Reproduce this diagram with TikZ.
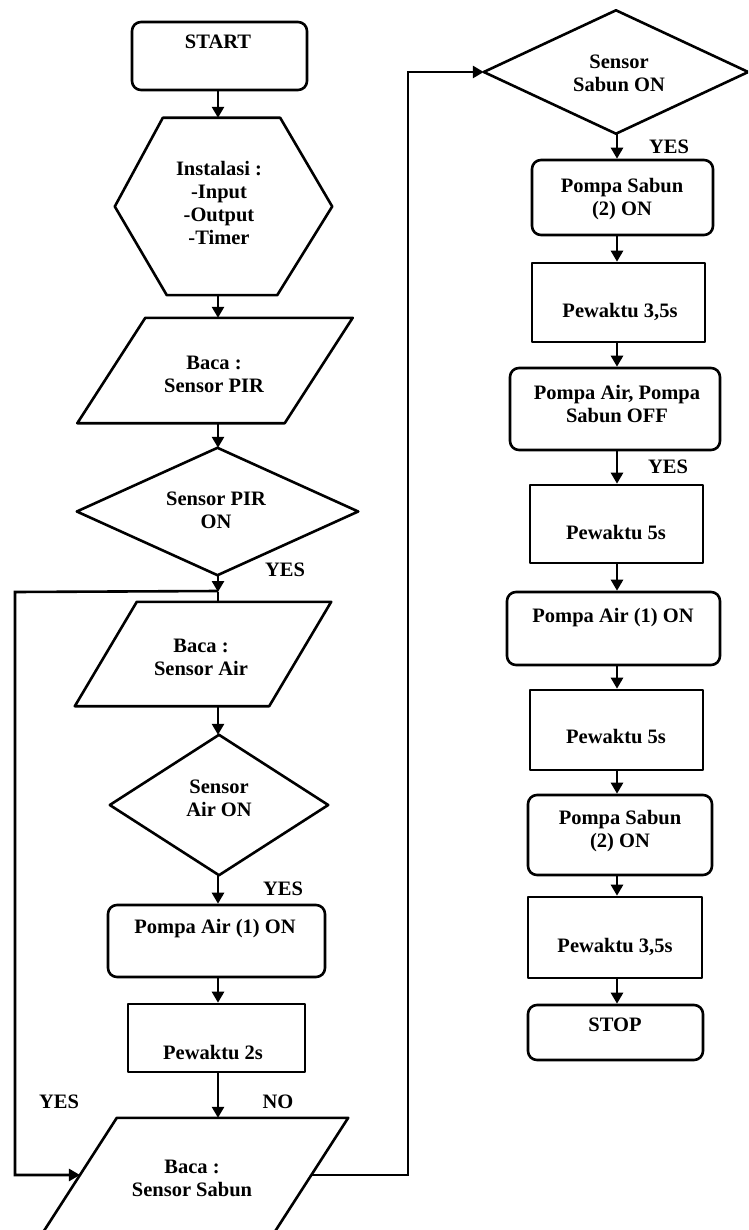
\documentclass[tikz,border=0pt]{standalone}
\usepackage{fontspec}
\setmainfont{Liberation Serif}
\usetikzlibrary{arrows.meta,calc}
\begin{document}
\begin{tikzpicture}[x=1pt,y=-1pt,
  shp/.style={draw=black, line width=2.6pt, line join=round},
  box/.style={shp, rectangle, inner sep=0pt},
  rbox/.style={box, rounded corners=9pt},
  ghost/.style={rectangle, inner sep=0pt},
  txt/.style={font=\fontsize{20.5}{23}\selectfont\bfseries, align=center, inner sep=0pt},
  arr/.style={line width=2.6pt, -{Triangle[length=11pt,width=12pt]}},
  ln/.style={line width=2.6pt},
]
\useasboundingbox (0,0) rectangle (748,1230);
\fill[white] (0,0) rectangle (748,1230);
\clip (0,0) rectangle (748,1230);

% column guides
\coordinate (colL) at (218,0);
\coordinate (colR) at (617,0);
\coordinate (rc) at (408,0);
\coordinate (lc) at (15,0);

% ---------- left column ----------
\node[rbox, minimum width=175pt, minimum height=68pt] (start) at (219.5,56) {};
\node[txt] (tstart) at (218,42) {START};

\node[ghost, minimum width=217pt, minimum height=177pt] (hex) at (223.5,206.5) {};
\draw[shp] (hex.west) -- ($(hex.north west)+(48,0)$) -- ($(hex.north east)+(-52,0)$)
  -- (hex.east) -- ($(hex.south east)+(-55,0)$) -- ($(hex.south west)+(52,0)$) -- cycle;
\node[txt, font=\fontsize{20.5}{23.3}\selectfont\bfseries] (thex) at (219,203) {Instalasi :\\-Input\\-Output\\-Timer};

\node[ghost, minimum width=207pt, minimum height=105pt] (p1) at (215,370.5) {};
\draw[shp] ($(p1.north west)+(34,0)$) -- ($(p1.north east)+(34,0)$)
  -- ($(p1.south east)+(-34,0)$) -- ($(p1.south west)+(-34,0)$) -- cycle;
\node[txt] (tp1) at (214,374) {Baca :\\Sensor PIR};

\node[ghost, minimum width=281pt, minimum height=127pt] (d1) at (217.5,511.5) {};
\draw[shp] (d1.north) -- (d1.east) -- (d1.south) -- (d1.west) -- cycle;
\node[txt] (td1) at (216,510) {Sensor PIR\\ON};

\coordinate (j1) at (218,592);

\node[ghost, minimum width=194pt, minimum height=104pt] (p2) at (203,654) {};
\draw[shp] ($(p2.north west)+(31,0)$) -- ($(p2.north east)+(31,0)$)
  -- ($(p2.south east)+(-31,0)$) -- ($(p2.south west)+(-31,0)$) -- cycle;
\node[txt] (tp2) at (201,657) {Baca :\\Sensor Air};

\node[ghost, minimum width=218pt, minimum height=140pt] (d2) at (219,805) {};
\draw[shp] (d2.north) -- (d2.east) -- (d2.south) -- (d2.west) -- cycle;
\node[txt] (td2) at (219,798) {Sensor\\Air ON};

\node[rbox, minimum width=217pt, minimum height=72pt] (pa1) at (216.5,941) {};
\node[txt] (tpa1) at (215,929) {Pompa Air (1) ON};

\node[box, minimum width=177pt, minimum height=68pt] (w2) at (216.5,1038) {};
\node[txt] (tw2) at (213,1053) {Pewaktu 2s};

\node[ghost, minimum width=231pt, minimum height=130pt] (p3) at (190.5,1183) {};
\coordinate (p3tl) at ($(p3.north west)+(42,0)$);
\coordinate (p3tr) at ($(p3.north east)+(42,0)$);
\coordinate (p3br) at ($(p3.south east)+(-42,0)$);
\coordinate (p3bl) at ($(p3.south west)+(-42,0)$);
\draw[shp] (p3tl) -- (p3tr) -- (p3br) -- (p3bl) -- cycle;
\coordinate (p3in) at ($(p3tl)!0.4385!(p3bl)$);
\coordinate (p3out) at ($(p3tr)!0.4385!(p3br)$);
\node[txt] (tp3) at (192,1178) {Baca :\\Sensor Sabun};

% ---------- right column ----------
\node[ghost, minimum width=264pt, minimum height=123pt] (d3) at (616,72) {};
\draw[shp] (d3.north) -- (d3.east) -- (d3.south) -- (d3.west) -- cycle;
\node[txt] (td3) at (619,73) {Sensor\\Sabun ON};

\node[rbox, minimum width=181pt, minimum height=75pt] (ps1) at (622.5,197.5) {};
\node[txt] (tps1) at (622,199) {Pompa Sabun\\(2) ON};

\node[box, minimum width=173pt, minimum height=79pt] (w35a) at (618.5,302.5) {};
\node[txt] (tw35a) at (620,312) {Pewaktu 3,5s};

\node[rbox, minimum width=210pt, minimum height=82pt] (poff) at (615,409) {};
\node[txt] (tpoff) at (617,404) {Pompa Air, Pompa\\Sabun OFF};

\node[box, minimum width=173pt, minimum height=78pt] (w5a) at (616.5,524) {};
\node[txt] (tw5a) at (616,533) {Pewaktu 5s};

\node[rbox, minimum width=213pt, minimum height=73pt] (pa2) at (613.5,628.5) {};
\node[txt] (tpa2) at (613,618) {Pompa Air (1) ON};

\node[box, minimum width=173pt, minimum height=80pt] (w5b) at (616.5,730) {};
\node[txt] (tw5b) at (616,737) {Pewaktu 5s};

\node[rbox, minimum width=184pt, minimum height=80pt] (ps2) at (620,835) {};
\node[txt] (tps2) at (620,831) {Pompa Sabun\\(2) ON};

\node[box, minimum width=174pt, minimum height=81pt] (w35b) at (615,937.5) {};
\node[txt] (tw35b) at (615,947) {Pewaktu 3,5s};

\node[rbox, minimum width=175pt, minimum height=55pt] (stop) at (615.5,1032.5) {};
\node[txt] (tstop) at (615,1025) {STOP};

% ---------- labels ----------
\node[txt] (y1) at (285,570) {YES};
\node[txt] (y2) at (283,889) {YES};
\node[txt] (y3) at (59,1102) {YES};
\node[txt] (n1) at (278,1102) {NO};
\node[txt] (y4) at (669,147) {YES};
\node[txt] (y5) at (668,467) {YES};

% ---------- connectors left ----------
\draw[arr] (start.south -| colL) -- (hex.north -| colL);
\draw[arr] (hex.south -| colL) -- (p1.north -| colL);
\draw[arr] (p1.south -| colL) -- (d1.north -| colL);
\draw[arr] (d1.south -| colL) -- (j1);
\draw[ln] (j1) -- (p2.north -| colL);
\draw[arr] (p2.south -| colL) -- (d2.north -| colL);
\draw[arr] (d2.south -| colL) -- (pa1.north -| colL);
\draw[arr] (pa1.south -| colL) -- (w2.north -| colL);
\draw[arr] (w2.south -| colL) -- (p3.north -| colL);
\draw[arr, rounded corners=0pt] ($(j1)+(0,-1)$) -- (lc |- j1) -- (lc |- p3in) -- (p3in);
\draw[arr] (p3out) -- (rc |- p3out) -- (rc |- d3.west) -- (d3.west);

% ---------- connectors right ----------
\draw[arr] (d3.south -| colR) -- (ps1.north -| colR);
\draw[arr] (ps1.south -| colR) -- (w35a.north -| colR);
\draw[arr] (w35a.south -| colR) -- (poff.north -| colR);
\draw[arr] (poff.south -| colR) -- (w5a.north -| colR);
\draw[arr] (w5a.south -| colR) -- (pa2.north -| colR);
\draw[arr] (pa2.south -| colR) -- (w5b.north -| colR);
\draw[arr] (w5b.south -| colR) -- (ps2.north -| colR);
\draw[arr] (ps2.south -| colR) -- (w35b.north -| colR);
\draw[arr] (w35b.south -| colR) -- (stop.north -| colR);
\end{tikzpicture}
\end{document}
